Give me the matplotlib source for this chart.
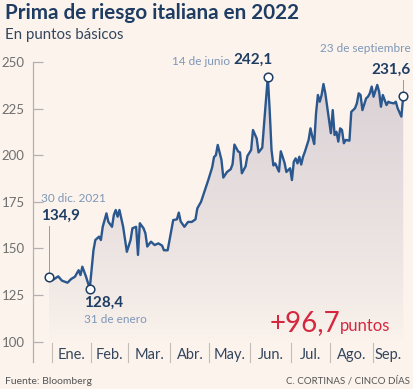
import matplotlib.pyplot as plt
import matplotlib.transforms as mtransforms
import numpy as np
import pandas as pd

plt.rcParams['font.family'] = ['Lato', 'DejaVu Sans']

# sesiones hábiles desde el 30 dic. 2021 (0) hasta el 23 sep. 2022 (191)
sesion = [0, 2, 5, 7, 10, 12, 14, 16, 17, 18, 20, 22, 23, 24, 25, 27, 28, 29, 31, 32,
          34, 35, 36, 37, 38, 40, 42, 44, 45, 47, 48, 49, 51, 52, 53, 55, 57, 59, 61, 62,
          64, 65, 67, 69, 70, 71, 73, 75, 77, 79, 80, 82, 84, 86, 88, 89, 90, 91, 93, 94,
          96, 98, 99, 100, 102, 103, 104, 106, 107, 109, 110, 112, 113, 115, 116, 118, 119, 120, 121, 122,
          124, 125, 127, 128, 130, 131, 132, 133, 134, 135, 136, 137, 138, 140, 141, 142, 143, 144, 145, 146,
          147, 148, 149, 151, 152, 153, 154, 155, 156, 157, 158, 159, 160, 162, 163, 164, 165, 166, 167, 168,
          169, 171, 172, 173, 174, 175, 177, 178, 179, 180, 182, 183, 184, 186, 187, 188, 190, 191]
prima = [134.9, 133.0, 135.0, 132.7, 131.6, 133.6, 134.8, 138.3, 135.7, 140.2, 134.8, 128.4, 138.4, 149.0, 154.5, 156.3, 154.5, 161.6, 168.8, 164.3,
         161.6, 168.0, 170.6, 167.0, 170.6, 161.6, 148.2, 154.5, 160.8, 161.6, 146.5, 163.5, 160.8, 158.1, 151.0, 153.6, 151.8, 152.7, 151.5, 149.0,
         149.0, 154.5, 165.2, 165.6, 169.2, 164.5, 161.6, 164.2, 164.2, 165.6, 171.5, 175.0, 181.0, 187.0, 193.5, 199.0, 200.0, 205.5, 197.5, 188.0,
         191.0, 192.5, 195.2, 205.7, 202.0, 201.5, 190.3, 194.0, 199.6, 202.8, 213.5, 209.0, 201.5, 204.0, 217.0, 242.1, 224.2, 202.8, 194.5, 195.6,
         191.2, 202.1, 196.0, 191.0, 193.0, 186.7, 196.5, 198.3, 195.6, 199.2, 195.0, 199.2, 201.9, 208.2, 214.4, 209.9, 206.0, 222.5, 232.3, 228.7,
         232.3, 238.2, 233.2, 218.9, 211.8, 224.2, 210.8, 212.6, 207.3, 214.4, 213.5, 206.4, 208.2, 207.8, 223.3, 224.2, 225.2, 227.8, 233.2, 232.3,
         224.2, 230.5, 231.4, 233.2, 236.8, 231.4, 237.7, 234.1, 226.0, 232.3, 226.9, 228.7, 228.2, 227.8, 228.7, 225.2, 220.7, 231.6]

fechas = pd.bdate_range('2021-12-30', '2022-09-23')
meses = ['Ene.', 'Feb.', 'Mar.', 'Abr.', 'May.', 'Jun.', 'Jul.', 'Ago.', 'Sep.']
ticks_y = [100, 125, 150, 175, 200, 225, 250]

BG = '#fbf3ec'
NAVY = '#1f3d63'
LINE = '#2a578e'
SOFT = '#7d97b8'
RED = '#d5283f'

fig = plt.figure(figsize=(4.14, 3.89), dpi=100, facecolor=BG)
ax = fig.add_axes([33 / 414, 1 - 362 / 389, 373 / 414, 300 / 389])
ax.set_facecolor(BG)
ax.set_xlim(-8.6, 192.5)
ax.set_ylim(89.06, 250)

x = np.array(sesion)
y = np.array(prima)

# relleno degradado bajo la línea
poly = ax.fill_between(x, y, 100, color='none', lw=0)
grad = np.linspace(0, 1, 256).reshape(-1, 1, 1)
top = np.array([218, 209, 214]) / 255
bot = np.array([251, 243, 236]) / 255
img = bot + (top - bot) * grad ** 0.8
im = ax.imshow(img[::-1], extent=[x[0], x[-1], 100, 242], aspect='auto', origin='upper', zorder=1)
im.set_clip_path(poly.get_paths()[0], transform=ax.transData)

ax.plot(x, y, color=LINE, lw=1.7, zorder=3, solid_joinstyle='round')

# puntos destacados
for i in [0, 11, 75, len(x) - 1]:
    ax.plot(x[i], y[i], 'o', ms=6.2, mfc='white', mec=NAVY, mew=1.1, zorder=5, clip_on=False)

# ejes
for s in ['top', 'right', 'bottom']:
    ax.spines[s].set_visible(False)
ax.spines['left'].set_color('#b5b0ad')
ax.spines['left'].set_linewidth(0.9)
ax.set_yticks(ticks_y)
ax.set_yticklabels([str(t) for t in ticks_y])
ax.tick_params(axis='y', direction='in', length=7, width=0.9, color='#b5b0ad',
               labelsize=9.5, labelcolor='#6f6f6f', pad=6)
ax.set_xticks([])

# meses
trans = mtransforms.blended_transform_factory(ax.transData, ax.transAxes)
pos = pd.Series(np.arange(len(fechas)), index=fechas)
grupos = pos.groupby(fechas.month)
for nombre, m in zip(meses, range(1, 10)):
    idx = grupos.get_group(m).values
    ax.text((idx[0] + idx[-1]) / 2, 0.023, nombre, transform=trans, ha='center', va='center',
            fontsize=10.5, color='#34465e')
    ax.plot([idx[0] - 0.5] * 2, [0.0, 0.063], transform=trans, color='#c3bdb8', lw=0.8, clip_on=False)

# anotaciones
ax.plot([x[0], x[0]], [y[0] + 1.6, 162], color='#9a9a9a', lw=0.7, zorder=2)
ax.text(-4.5, 177, '30 dic. 2021', fontsize=8.5, color=SOFT, ha='left', va='center')
ax.text(-4.5, 167.5, '134,9', fontsize=11, color=NAVY, ha='left', va='center', fontweight='bold')
ax.text(19, 121, '128,4', fontsize=11, color=NAVY, ha='left', va='center', fontweight='bold')
ax.text(19, 112, '31 de enero', fontsize=8.5, color=SOFT, ha='left', va='center')
ax.text(97.5, 250.5, '14 de junio', fontsize=8.5, color=SOFT, ha='right', va='center')
ax.text(99.5, 251, '242,1', fontsize=11, color=NAVY, ha='left', va='center', fontweight='bold')
ax.text(195, 257.5, '23 de septiembre', fontsize=8.5, color=SOFT, ha='right', va='center', clip_on=False)
ax.text(195, 246, '231,6', fontsize=11, color=NAVY, ha='right', va='center', fontweight='bold')
ax.plot([x[-1], x[-1]], [y[-1] + 1.6, 240.5], color='#9a9a9a', lw=0.7, zorder=2)

fig.text(270 / 414, 1 - 323 / 389, '+96,7', fontsize=20, color=RED, ha='left', va='center')
fig.text(340 / 414, 1 - 326 / 389, 'puntos', fontsize=12, color=RED, ha='left', va='center')

# títulos y pie
fig.text(5 / 414, 1 - 13 / 389, 'Prima de riesgo italiana en 2022', fontsize=14.9, fontweight='bold',
         color=NAVY, ha='left', va='center')
fig.text(5 / 414, 1 - 35 / 389, 'En puntos básicos', fontsize=10.8, color='#34465e', ha='left', va='center')
fig.text(5 / 414, 1 - 381 / 389, 'Fuente: Bloomberg', fontsize=7.5, color='#555555', ha='left', va='center')
fig.text(410 / 414, 1 - 381 / 389, 'C. CORTINAS / CINCO DÍAS', fontsize=7, color='#555555', ha='right', va='center')

fig.savefig('out.png', dpi=100, facecolor=BG)
